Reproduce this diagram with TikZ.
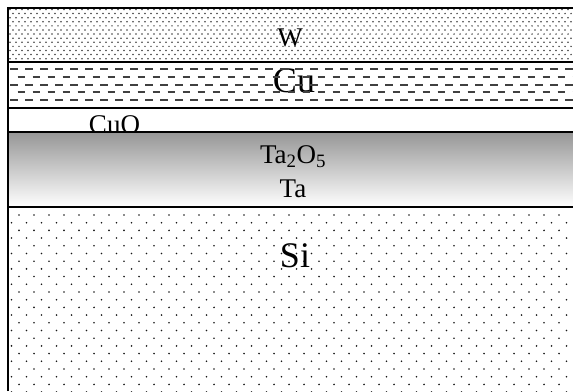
\documentclass[tikz,border=0pt]{standalone}
\usepackage{fontspec}
\setmainfont{Liberation Serif}
\begin{document}
\begin{tikzpicture}[x=1pt,y=1pt,
  layerline/.style={line width=1.8pt, black},
  wdot/.style={fill=black!75},
  sidot/.style={fill=black!90},
  cudash/.style={line width=1.9pt, black!75, dash pattern=on 7.5pt off 7.5pt},
  lblsmall/.style={inner sep=0pt, anchor=base, font=\fontsize{27}{30}\selectfont},
  lblbig/.style={inner sep=0pt, anchor=base, font=\fontsize{36}{40}\selectfont}]
\useasboundingbox (0,0) rectangle (573,391);
\fill[white] (0,0) rectangle (573,391);

% W layer: dense stippling
\begin{scope}
  \clip (8,329) rectangle (573,383);
  \foreach \r in {0,...,13} {
    \pgfmathsetmacro\yy{381.5-\r*4.1}
    \pgfmathsetmacro\off{mod(\r,2)*3}
    \foreach \c in {0,...,95} {
      \fill[wdot] ({10+\off+\c*6},\yy) circle (0.85);
    }
  }
\end{scope}
\node[lblsmall] (w) at (290,344) {W};

% Cu layer: staggered dashes
\node[lblbig] (cu) at (294,298) {Cu};
\foreach \r in {0,...,4} {
  \pgfmathsetmacro\yy{321.7-\r*7.7}
  \pgfmathsetmacro\ph{mod(\r,2)*7.5}
  \draw[cudash, dash phase=\ph pt] (10,\yy) -- (573,\yy);
}

% CuO label (partly covered by the oxide band below)
\node[lblsmall] (cuo) at (114.5,257) {CuO};

% Ta2O5 / Ta graded band
\shade[top color={rgb,255:red,150;green,150;blue,150}, bottom color=white]
  (8,259) rectangle (573,184);
\node[lblsmall] (tao) at (293,227) {Ta\textsubscript{2}O\textsubscript{5}};
\node[lblsmall] (ta) at (293,193) {Ta};

% Si substrate: regular dot grid
\begin{scope}
  \clip (8,0) rectangle (573,184);
  \foreach \r in {0,...,24} {
    \pgfmathsetmacro\yy{176-\r*7.7}
    \pgfmathsetmacro\off{mod(\r,2)*(-7.5)}
    \foreach \c in {0,...,38} {
      \fill[sidot] ({19+\off+\c*15},\yy) circle (0.9);
    }
  }
\end{scope}
\node[lblbig] (si) at (295,123) {Si};

% layer boundaries and frame
\draw[layerline] (8,0) -- (8,383) -- (573,383);
\draw[layerline] (8,329) -- (573,329);
\draw[layerline] (8,283) -- (573,283);
\draw[layerline] (8,259) -- (573,259);
\draw[layerline] (8,184) -- (573,184);
\end{tikzpicture}
\end{document}
